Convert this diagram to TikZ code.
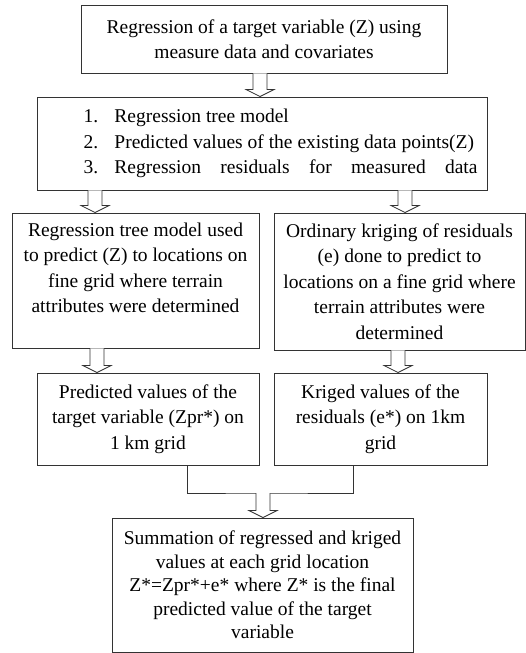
\documentclass[tikz,border=0pt]{standalone}
\usepackage{fontspec}
\setmainfont{Liberation Serif}
\usetikzlibrary{calc}

\begin{document}
\begin{tikzpicture}[x=1pt, y=1pt,
            box/.style={rectangle, draw=black!80, line width=0.9pt, align=center, inner sep=4pt, font=\fontsize{19.5}{25.5}\selectfont},
            blockarr/.style={draw=black!80, line width=0.8pt, fill=white,
                to path={let \p1=(\tikztostart), \p2=(\tikztotarget) in
                    (\x1-7pt,\y1) -- (\x1-7pt,\y2+7pt) -- (\x1-14pt,\y2+7pt) -- (\x1,\y2)
                    -- (\x1+14pt,\y2+7pt) -- (\x1+7pt,\y2+7pt) -- (\x1+7pt,\y1)}}
        ]
\useasboundingbox (0,0) rectangle (526,-653);

% Regression
            \node[box, minimum width=366, minimum height=68] (regress) at (264,-39) {Regression of a target variable (Z) using\\measure data and covariates};

% Outputs of the tree
            \node[box, minimum width=450, minimum height=93, align=left] (outputs) at (262,-143.5) {%
                \hspace*{37pt}\makebox[31pt][l]{1.}Regression tree model\\
                \hspace*{37pt}\makebox[31pt][l]{2.}Predicted values of the existing data points(Z)\\
                \hspace*{37pt}\makebox[31pt][l]{3.}\hbox to 363pt{Regression\hfill residuals\hfill for\hfill measured\hfill data}};

% Two branches
            \node[box, minimum width=247, minimum height=135] (treepred) at (135.5,-280.5) {Regression tree model used\\to predict (Z) to locations on\\fine grid where terrain\\attributes were determined\\ \mbox{}};
            \node[box, minimum width=251, minimum height=137] (kriging) at (399.5,-281.5) {Ordinary kriging of residuals\\(e) done to predict to\\locations on a fine grid where\\terrain attributes were\\determined};
            \node[box, minimum width=222, minimum height=92] (zpr) at (148,-419) {Predicted values of the\\target variable (Zpr*) on\\1 km grid};
            \node[box, minimum width=213, minimum height=92] (estar) at (380.5,-419) {Kriged values of the\\residuals (e*) on 1km\\grid};

% Final sum
            \node[box, minimum width=301, minimum height=134, font=\fontsize{19.5}{23.5}\selectfont] (summation) at (262.5,-585) {Summation of regressed and kriged\\values at each grid location\\Z*=Zpr*+e* where Z* is the final\\predicted value of the target\\variable};

            \coordinate (join) at (263,-493);

% Arrows
            \draw[blockarr] (regress.south -| 260,0) to (outputs.north -| 260,0);
            \draw[blockarr] (outputs.south -| 95,0) to (treepred.north -| 95,0);
            \draw[blockarr] (outputs.south -| 405,0) to (kriging.north -| 405,0);
            \draw[blockarr] (treepred.south -| 97,0) to (zpr.north -| 97,0);
            \draw[blockarr] (kriging.south -| 398,0) to (estar.north -| 398,0);
            \draw[draw=black!80, line width=0.8pt] (zpr.south -| 187,0) |- (join) -| (estar.south -| 353,0);
            \draw[blockarr] (join) to (summation.north -| 263,0);

        \end{tikzpicture}
\end{document}
